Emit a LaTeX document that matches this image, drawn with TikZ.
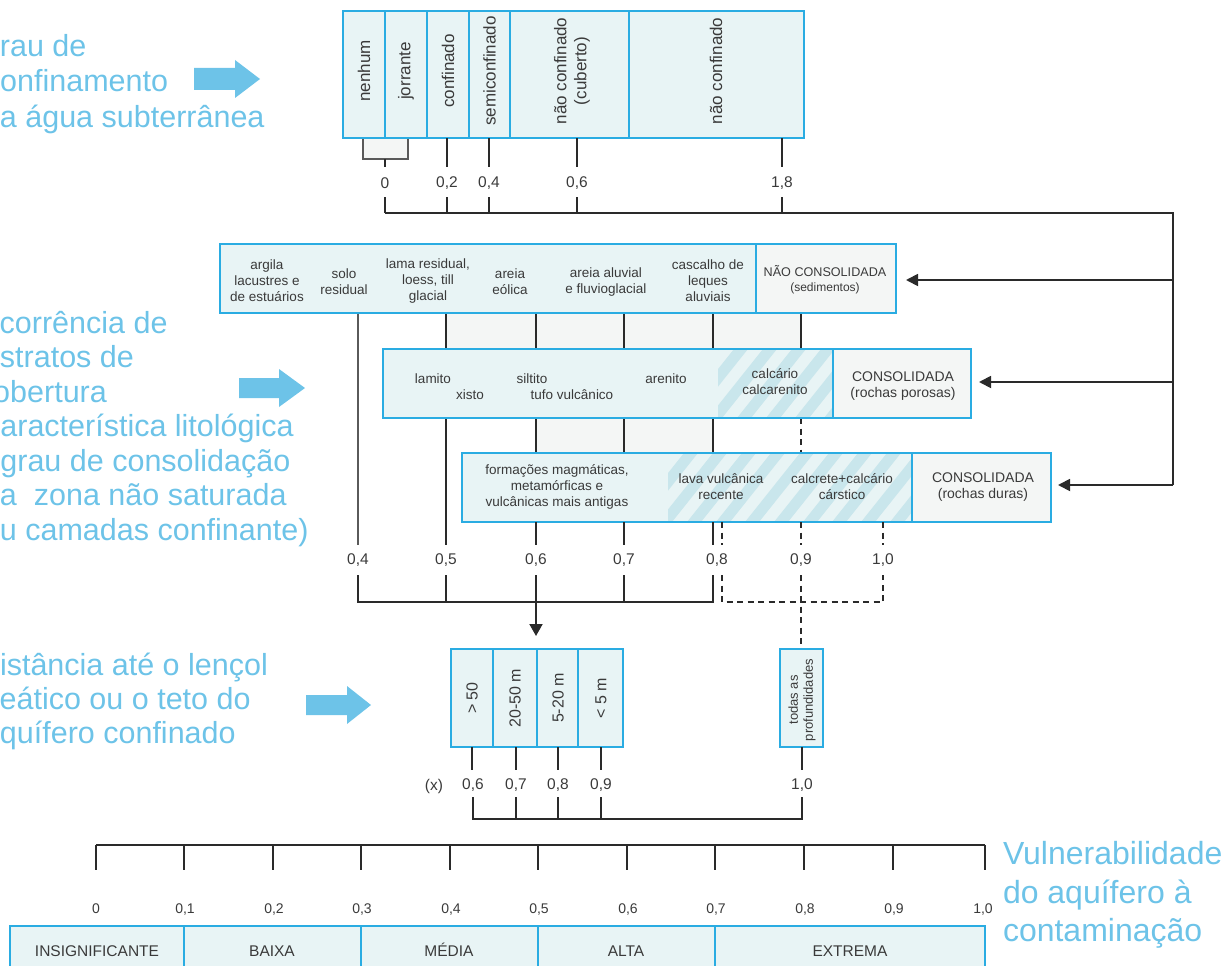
\documentclass[tikz,border=0pt]{standalone}
\usepackage{fontspec}
\setmainfont{Liberation Sans}
\usetikzlibrary{arrows.meta}
\definecolor{bord}{HTML}{2AACE2}
\definecolor{boxfill}{HTML}{E8F4F5}
\definecolor{greyfill}{HTML}{F4F6F5}
\definecolor{hatchc}{HTML}{C9E6EC}
\definecolor{bluetxt}{HTML}{6DC3E8}
\definecolor{ink}{HTML}{2A2A2A}
\definecolor{inkgrey}{HTML}{5A5A5A}
\definecolor{txt}{HTML}{3A3A3A}

% diagonal stripes inside a rectangle: x1, y1 (top), x2, y2 (bottom), first stripe, second stripe, last stripe
\newcommand{\hatchband}[7]{%
  \begin{scope}
    \clip (#1,#2) rectangle (#3,#4);
    \foreach \s in {#5,#6,...,#7}
      \fill[hatchc] (\s,#4) -- ++(14,0) -- ++(55,-69) -- ++(-14,0) -- cycle;
  \end{scope}}

\begin{document}
\begin{tikzpicture}[x=1pt,y=-1pt,
  every node/.style={text=txt, inner sep=0pt, outer sep=0pt},
  panel/.style={draw=bord, line width=1.8pt},
  tick/.style={draw=ink, line width=1.9pt},
  greytick/.style={draw=inkgrey, line width=1.9pt},
  dashtick/.style={draw=ink, line width=1.6pt, dash pattern=on 6pt off 4.5pt},
  boxtxt/.style={font=\fontsize{13.5}{16}\selectfont, align=center},
  captxt/.style={font=\fontsize{14}{16}\selectfont, align=center},
  rottxt/.style={font=\fontsize{17}{20}\selectfont, rotate=90, align=center},
  deptxt/.style={font=\fontsize{16}{19}\selectfont, rotate=90},
  smallrot/.style={font=\fontsize{13}{15}\selectfont, rotate=90, align=center},
  val/.style={font=\fontsize{15.5}{18}\selectfont},
  scaleval/.style={font=\fontsize{14}{16}\selectfont, anchor=base},
  classtxt/.style={font=\fontsize{15.5}{17}\selectfont, anchor=base},
  bigblue/.style={text=bluetxt, font=\fontsize{30.5}{36}\selectfont, anchor=base west},
  bigblueR/.style={text=bluetxt, font=\fontsize{32}{38}\selectfont, anchor=base west},
  blockarrow/.style={fill=bluetxt},
  feed/.style={draw=ink, line width=1.8pt, -{Triangle[length=12pt,width=12pt]}}
]
\useasboundingbox (0,0) rectangle (1227,966);
\clip (0,0) rectangle (1227,966);

% ---------- degree of confinement ----------
\draw[draw=inkgrey, line width=1.3pt, fill=greyfill] (363,139) -- (363,159) -- (408,159) -- (408,139);
\fill[boxfill] (343,11) rectangle (804,138);
\draw[panel] (343,11) rectangle (804,138);
\foreach \x in {385,427,469,510,629} \draw[panel] (\x,11) -- (\x,138);
\node[rottxt] (nenhum) at (364,71) {nenhum};
\node[rottxt] (jorrante) at (406,71) {jorrante};
\node[rottxt] (confinado) at (448,71) {confinado};
\node[rottxt] (semi) at (489.5,71) {semiconfinado};
\node[rottxt] (coberto) at (572,71) {não confinado\\(cuberto)};
\node[rottxt] (livre) at (716,71) {não confinado};

\draw[tick] (385,159) -- (385,167);
\foreach \x in {447,489,577,782} \draw[tick] (\x,138) -- (\x,167);
\node[val] (v00) at (385,183) {0};
\node[val] (v02) at (447,183) {0,2};
\node[val] (v04) at (489,183) {0,4};
\node[val] (v06) at (577,183) {0,6};
\node[val] (v18) at (782,183) {1,8};
\foreach \x in {385,447,489,577,782} \draw[tick] (\x,197) -- (\x,213);

% bus to the three lithology rows
\coordinate (busTop) at (1173,213);
\coordinate (busA) at (1173,280);
\coordinate (busB) at (1173,382);
\coordinate (busC) at (1173,485);
\coordinate (sedR) at (896,280);
\coordinate (porR) at (971,382);
\coordinate (durR) at (1051,485);
\draw[tick, line join=miter] (385,213) -- (busTop) -- (busC);
\draw[feed] (busA) -- ([xshift=10pt]sedR);
\draw[feed] (busB) -- ([xshift=8pt]porR);
\draw[feed] (busC) -- ([xshift=7pt]durR);

% ---------- overlying strata ----------
\fill[greyfill] (446,313) rectangle (801,349);
\fill[greyfill] (536,418) rectangle (713,453);
\foreach \x in {446,536,624,713,801} \draw[tick] (\x,313) -- (\x,349);
\draw[greytick] (358,313) -- (358,545);
\foreach \x in {536,624,713} \draw[tick] (\x,418) -- (\x,453);
\draw[tick] (446,418) -- (446,545);
\draw[dashtick] (801,418) -- (801,453);

% row A: unconsolidated
\fill[boxfill] (220,244) rectangle (756,313);
\fill[greyfill] (756,244) rectangle (896,313);
\draw[panel] (220,244) rectangle (896,313);
\draw[panel] (756,244) -- (756,313);
\node[boxtxt] (argila) at (267,281) {argila\\lacustres e\\de estuários};
\node[boxtxt] (solo) at (344,282) {solo\\residual};
\node[boxtxt] (lama) at (428,281) {lama residual,\\loess, till\\glacial};
\node[boxtxt] (eolica) at (510,282) {areia\\eólica};
\node[boxtxt] (aluvial) at (606,282) {areia aluvial\\e fluvioglacial};
\node[boxtxt] (cascalho) at (708,281) {cascalho de\\leques\\aluviais};
\node[font=\fontsize{12.6}{15}\selectfont, align=center] (sed) at (825,280) {NÃO CONSOLIDADA\\{\fontsize{12}{15}\selectfont(sedimentos)}};

% row B: porous rocks
\fill[boxfill] (383,349) rectangle (833,418);
\hatchband{718}{349}{833}{418}{650}{679}{840}
\fill[greyfill] (833,349) rectangle (971,418);
\draw[panel] (383,349) rectangle (971,418);
\draw[panel] (833,349) -- (833,418);
\node[boxtxt] (lamito) at (433,379) {lamito};
\node[boxtxt] (xisto) at (470,395) {xisto};
\node[boxtxt] (siltito) at (532,379) {siltito};
\node[boxtxt] (tufo) at (572,395) {tufo vulcânico};
\node[boxtxt] (arenito) at (666,379) {arenito};
\node[boxtxt] (calcario) at (775,382) {calcário\\calcarenito};
\node[captxt] (poros) at (903,386) {CONSOLIDADA\\(rochas porosas)};

% row C: hard rocks
\fill[boxfill] (462,453) rectangle (912,522);
\hatchband{668}{453}{912}{522}{600}{629}{920}
\fill[greyfill] (912,453) rectangle (1051,522);
\draw[panel] (462,453) rectangle (1051,522);
\draw[panel] (912,453) -- (912,522);
\node[boxtxt] (magma) at (557,487) {formações magmáticas,\\metamórficas e\\vulcânicas mais antigas};
\node[boxtxt] (lava) at (721,487) {lava vulcânica\\recente};
\node[boxtxt] (calcrete) at (842,487) {calcrete+calcário\\cárstico};
\node[captxt] (duras) at (983,487) {CONSOLIDADA\\(rochas duras)};

\foreach \x in {536,624,713} \draw[tick] (\x,522) -- (\x,545);
\foreach \x in {722,801,883} \draw[dashtick] (\x,522) -- (\x,545);
\node[val] (l04) at (358,560) {0,4};
\node[val] (l05) at (446,560) {0,5};
\node[val] (l06) at (536,560) {0,6};
\node[val] (l07) at (624,560) {0,7};
\node[val] (l08) at (717,560) {0,8};
\node[val] (l09) at (801,560) {0,9};
\node[val] (l10) at (883,560) {1,0};
\foreach \x in {446,536,624} \draw[tick] (\x,575) -- (\x,602);
\draw[tick] (358,575) -- (358,602) -- (713,602) -- (713,575);
\draw[dashtick] (722,575) -- (722,602) -- (883,602) -- (883,575);
\draw[dashtick] (801,575) -- (801,649);
\draw[tick, -{Triangle[length=12pt,width=13pt]}] (536,602) -- (536,636);

% ---------- depth to water ----------
\fill[boxfill] (451,649) rectangle (623,747);
\draw[panel] (451,649) rectangle (623,747);
\foreach \x in {493,537,578} \draw[panel] (\x,649) -- (\x,747);
\fill[boxfill] (780,649) rectangle (823,747);
\draw[panel] (780,649) rectangle (823,747);
\node[deptxt] (d1) at (472,698) {> 50};
\node[deptxt] (d2) at (515,698) {20-50 m};
\node[deptxt] (d3) at (558,698) {5-20 m};
\node[deptxt] (d4) at (601,698) {< 5 m};
\node[smallrot] (todas) at (802,700) {todas as\\profundidades};
\foreach \x in {472,516,558,601,802} \draw[tick] (\x,747) -- (\x,770);
\node[val] (px) at (434,786) {(x)};
\node[val] (p06) at (473,785) {0,6};
\node[val] (p07) at (516,785) {0,7};
\node[val] (p08) at (558,785) {0,8};
\node[val] (p09) at (601,785) {0,9};
\node[val] (p10) at (802,785) {1,0};
\foreach \x in {516,558,601} \draw[tick] (\x,797) -- (\x,819);
\draw[tick] (473,797) -- (473,819) -- (802,819) -- (802,797);

% ---------- vulnerability scale ----------
\draw[tick, line width=1.6pt] (96,845) -- (985,845);
\foreach \x in {96,184,273,361,450,538,627,715,804,893,985} \draw[tick] (\x,845) -- ++(0,25);
\node[scaleval] (s0) at (96,913) {0};
\node[scaleval] (s1) at (185,913) {0,1};
\node[scaleval] (s2) at (274,913) {0,2};
\node[scaleval] (s3) at (362,913) {0,3};
\node[scaleval] (s4) at (451,913) {0,4};
\node[scaleval] (s5) at (539,913) {0,5};
\node[scaleval] (s6) at (628,913) {0,6};
\node[scaleval] (s7) at (716,913) {0,7};
\node[scaleval] (s8) at (805,913) {0,8};
\node[scaleval] (s9) at (894,913) {0,9};
\node[scaleval] (s10) at (983,913) {1,0};
\fill[boxfill] (10,926) rectangle (985,990);
\draw[panel] (10,990) -- (10,926) -- (985,926) -- (985,990);
\foreach \x in {184,361,538,715} \draw[panel] (\x,926) -- (\x,990);
\node[classtxt] (k1) at (97,956) {INSIGNIFICANTE};
\node[classtxt] (k2) at (272,956) {BAIXA};
\node[classtxt] (k3) at (449,956) {MÉDIA};
\node[classtxt] (k4) at (626,956) {ALTA};
\node[classtxt] (k5) at (850,956) {EXTREMA};

% ---------- side captions ----------
\node[bigblue] (g1) at (-17,57) {grau de};
\node[bigblue] (g2) at (-15,92) {confinamento};
\node[bigblue] (g3) at (-17,127) {da água subterrânea};
\fill[blockarrow] (194,68) -- (235,68) -- (235,60) -- (260,79) -- (235,98) -- (235,90) -- (194,90) -- cycle;

\node[bigblue] (o1) at (-24,333) {Ocorrência de};
\node[bigblue] (o2) at (-17,367.5) {estratos de};
\node[bigblue] (o3) at (-22,402) {cobertura};
\node[bigblue] (o4) at (-25,436.5) {(característica litológica};
\node[bigblue] (o5) at (-25,471) {e grau de consolidação};
\node[bigblue] (o6) at (-17,505.5) {da\ \ zona não saturada};
\node[bigblue] (o7) at (-17,540) {ou camadas confinante)};
\fill[blockarrow] (239,378) -- (279,378) -- (279,369) -- (305,388) -- (279,407) -- (279,398) -- (239,398) -- cycle;

\node[bigblue] (p1) at (-22,675) {Distância até o lençol};
\node[bigblue] (p2) at (-19,709) {freático ou o teto do};
\node[bigblue] (p3) at (-17,743) {aquífero confinado};
\fill[blockarrow] (306,695) -- (347,695) -- (347,686) -- (371,705) -- (347,724) -- (347,715) -- (306,715) -- cycle;

\node[bigblueR] (w1) at (1003,864) {Vulnerabilidade};
\node[bigblueR] (w2) at (1003,903) {do aquífero à};
\node[bigblueR] (w3) at (1003,941) {contaminação};
\end{tikzpicture}
\end{document}
